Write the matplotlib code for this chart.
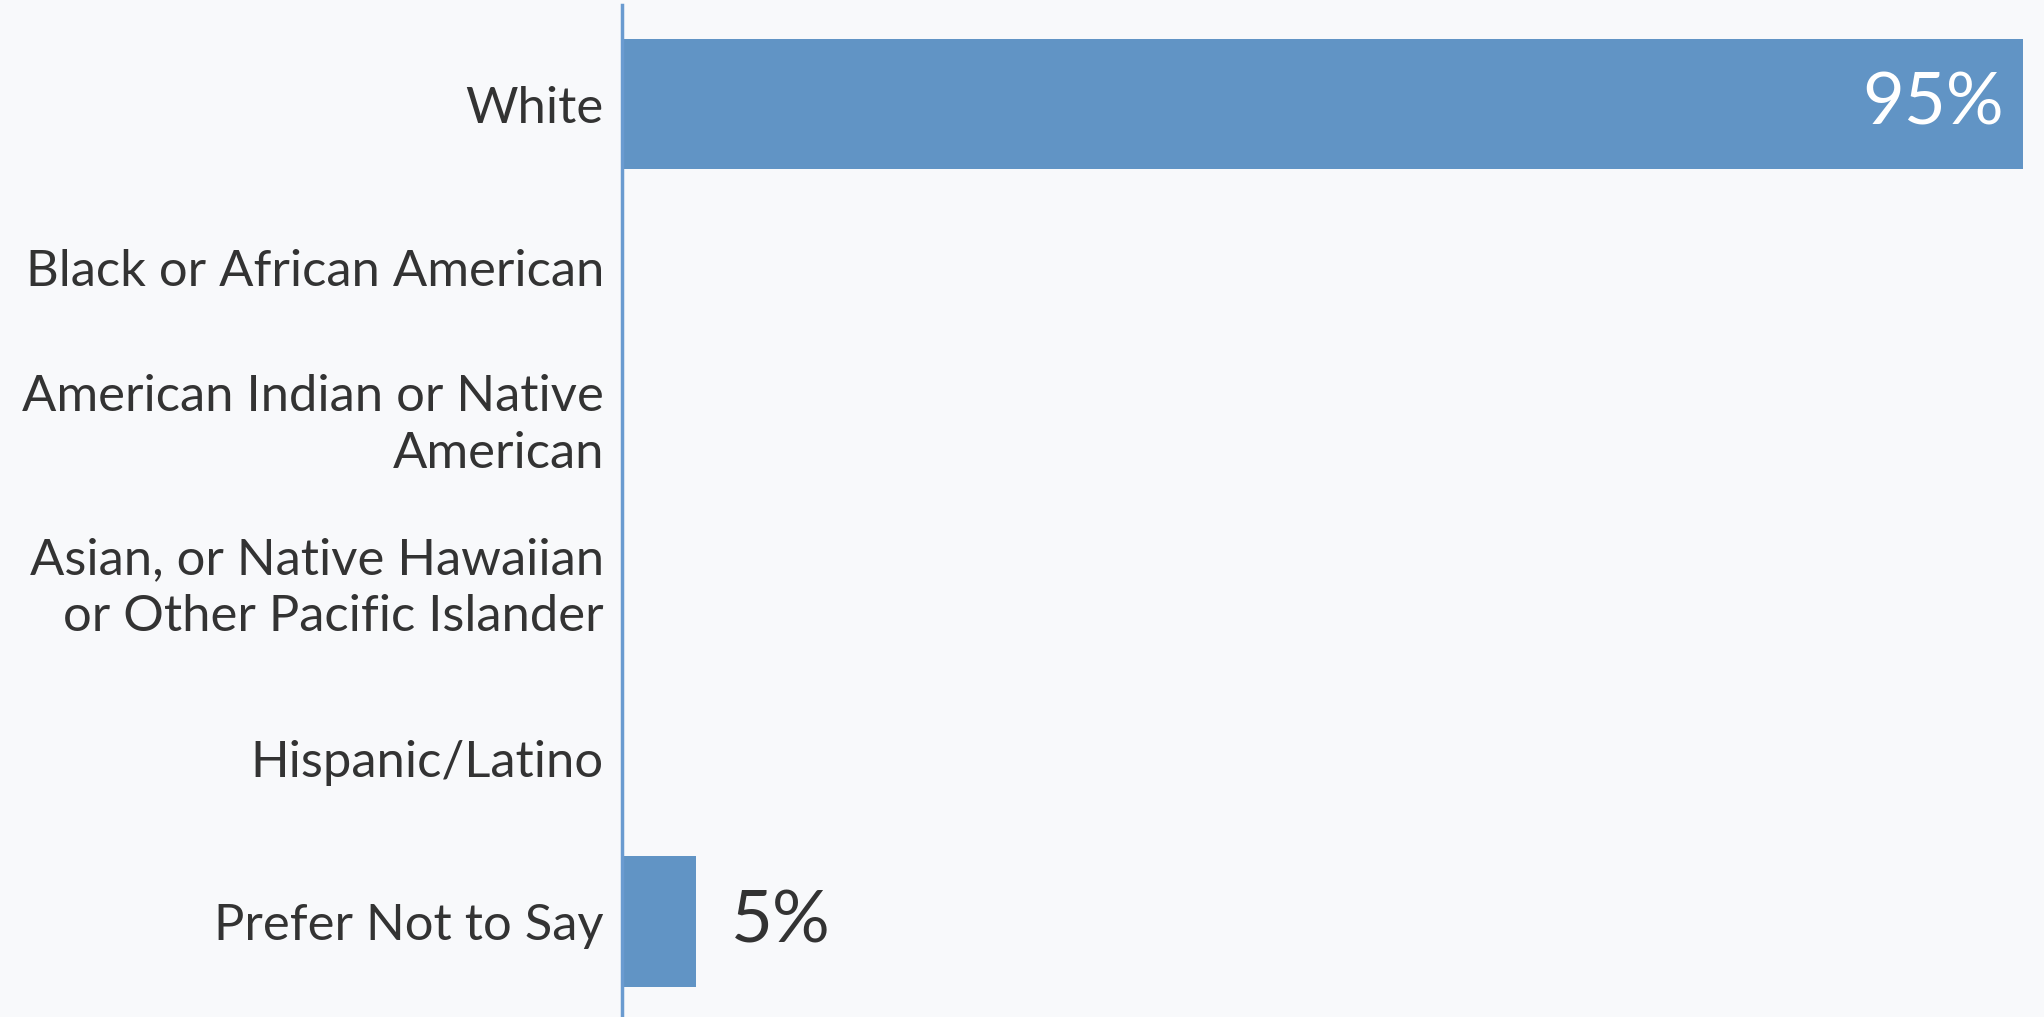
import matplotlib
matplotlib.use("Agg")
import matplotlib.pyplot as plt
from matplotlib.transforms import ScaledTranslation

categories = ["White", "Black or African American", "American Indian or Native\nAmerican",
              "Asian, or Native Hawaiian\nor Other Pacific Islander", "Hispanic/Latino",
              "Prefer Not to Say"]
values = [95, 0, 0, 0, 0, 5]
value_labels = ["95%", "", "", "", "", "5%"]

W, H = 2044, 1017
fig = plt.figure(figsize=(W / 100, H / 100), dpi=100)
bg = "#f8f9fb"
fig.patch.set_facecolor(bg)
ax_left, ax_right = 622 / W, 2023 / W
ax_top, ax_bottom = 1 - 5 / H, 0.0
ax = fig.add_axes([ax_left, ax_bottom, ax_right - ax_left, ax_top - ax_bottom])
ax.set_facecolor(bg)

bar_color = "#6194c5"
ypos = list(range(len(categories)))
ax.barh(ypos, values, height=0.8, color=bar_color, zorder=2)
ax.set_xlim(0, 95)
ax.set_ylim(5 + 0.584, -0.6055)

font = "Lato"
for sp in ["top", "right", "bottom"]:
    ax.spines[sp].set_visible(False)
ax.spines["left"].set_color("#6a9bd0")
ax.spines["left"].set_linewidth(2.5)
ax.set_xticks([])
ax.set_yticks(ypos)
ax.set_yticklabels(categories, fontsize=36.5, color="#333333", family=font, linespacing=1.3)
ax.tick_params(axis="y", length=0, pad=13)
for lbl in ax.get_yticklabels():
    if "\n" in lbl.get_text():
        lbl.set_transform(lbl.get_transform() + ScaledTranslation(0, 0.16, fig.dpi_scale_trans))

for y, v, lab in zip(ypos, values, value_labels):
    if not lab:
        continue
    if v > 50:
        ax.text(v - 1.3, y, lab, ha="right", va="center", color="white", fontsize=52, family=font)
    else:
        ax.text(v + 2.4, y, lab, ha="left", va="center", color="#333333", fontsize=52, family=font)

fig.savefig("out.png", dpi=100, facecolor=bg)
